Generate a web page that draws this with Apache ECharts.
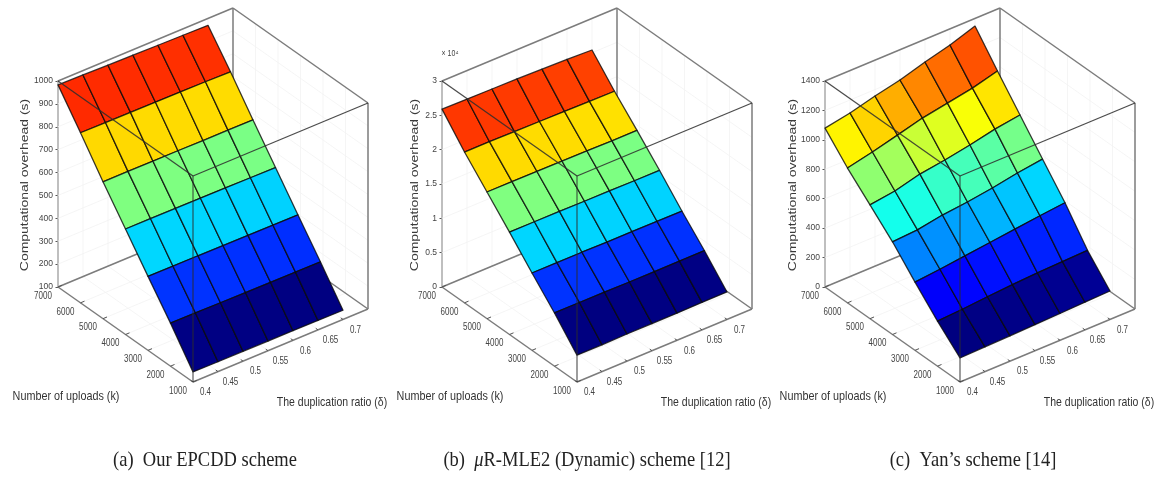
<!DOCTYPE html>
<html><head><meta charset="utf-8">
<style>html,body{margin:0;padding:0;background:#fff}#c{width:1163px;height:477px;filter:blur(0.7px)}</style>
<script src="https://cdn.jsdelivr.net/npm/echarts@6/dist/echarts.min.js"></script>
</head><body><div id="c"></div>
<script>
// ---------- data ----------
var uploads = [7000, 6000, 5000, 4000, 3000, 2000, 1000];
var ratios = [0.4, 0.45, 0.5, 0.55, 0.6, 0.65, 0.7];
var ratioAxisEnd = 0.75;
var captionA = '(a)  Our EPCDD scheme';
var captionB = '(b)  {i|μ}R-MLE2 (Dynamic) scheme [12]';
var captionC = '(c)  Yan\u2019s scheme [14]';
var nameUploads = 'Number of uploads (k)';
var nameRatio = 'The duplication ratio (δ)';
var nameOverhead = 'Computational overhead (s)';
// each row: one upload count, across the duplication ratios
var epcdd = [
  [983, 981, 978, 976, 974, 972, 970],
  [843, 842, 841, 840, 839, 838, 836],
  [698, 698, 697, 697, 696, 696, 695],
  [561, 561, 560, 559, 558, 557, 556],
  [423, 422, 422, 421, 420, 419, 418],
  [288, 287, 286, 285, 284, 283, 282],
  [144, 143, 143, 142, 142, 141, 140]
];
var mle2 = [
  [25900, 25850, 25800, 25750, 25650, 25550, 25400],
  [21960, 21950, 21900, 21850, 21800, 21750, 21700],
  [18450, 18430, 18400, 18400, 18350, 18300, 18300],
  [14900, 14900, 14900, 14850, 14850, 14800, 14800],
  [11260, 11250, 11250, 11200, 11200, 11200, 11150],
  [7750, 7750, 7750, 7700, 7700, 7700, 7700],
  [3900, 3900, 3950, 3950, 3950, 4000, 4000]
];
var yan = [
  [1080, 1112, 1156, 1194, 1246, 1290, 1348],
  [916, 954, 998, 1043, 1074, 1105, 1150],
  [773, 797, 841, 866, 897, 934, 959],
  [630, 640, 670, 688, 712, 743, 767],
  [464, 480, 500, 520, 540, 560, 578],
  [306, 316, 330, 342, 350, 356, 362],
  [163, 168, 172, 177, 182, 188, 193]
];
// ---------- panels ----------
var panels = [
  {rows: epcdd, left: 58,  zMin: 100, zMax: 1000,  zStep: 100,  fmt: function (v) { return String(v); }, nameX: 24.5, caption: captionA, capX: 205},
  {rows: mle2,  left: 442, zMin: 0,   zMax: 30000, zStep: 5000, fmt: function (v) { return String(v / 10000); }, nameX: 415, caption: captionB, capX: 587},
  {rows: yan,   left: 825, zMin: 0,   zMax: 1400,  zStep: 200,  fmt: function (v) { return String(v); }, nameX: 792.5, caption: captionC, capX: 973}
];
var W = 310, ZTOP = 81, ZH = 206, KX = 135, KY = 95, DX = 175, DY = 73;
function project(p, k, d, z) {
  var kt = (uploads[0] - k) / (uploads[0] - uploads[6]);
  var dt = (d - ratios[0]) / (ratioAxisEnd - ratios[0]);
  return [(kt * KX + dt * DX) / W, z + (-kt * KY + dt * DY) / ZH * (p.zMax - p.zMin)];
}
function jet(v) {
  function c(a) { return Math.round(255 * Math.max(0, Math.min(1, a))); }
  return 'rgb(' + c(Math.min(4 * v - 1.5, -4 * v + 4.5)) + ',' + c(Math.min(4 * v - 0.5, -4 * v + 3.5)) + ',' + c(Math.min(4 * v + 0.5, -4 * v + 2.5)) + ')';
}
function line(pa, pb, color, width) {
  return {type: 'line', shape: {x1: pa[0], y1: pa[1], x2: pb[0], y2: pb[1]}, style: {stroke: color, lineWidth: width, fill: null}};
}
function zTicks(p) { var a = []; for (var z = p.zMin; z <= p.zMax + 1e-6; z += p.zStep) a.push(z); return a; }

function behindItem(p) {
  return function (params, api) {
    function P(k, d, z) { return api.coord(project(p, k, d, z)); }
    var kA = uploads[0], kB = uploads[6], d0 = ratios[0], dE = ratioAxisEnd, g = [], GC = '#f2f2f2', BC = '#7c7c7c';
    zTicks(p).forEach(function (z) {
      g.push(line(P(kA, d0, z), P(kA, dE, z), GC, 0.8));
      g.push(line(P(kA, dE, z), P(kB, dE, z), GC, 0.8));
    });
    ratios.forEach(function (d) {
      g.push(line(P(kA, d, p.zMin), P(kA, d, p.zMax), GC, 0.8));
      g.push(line(P(kA, d, p.zMin), P(kB, d, p.zMin), GC, 0.8));
    });
    uploads.forEach(function (k) {
      g.push(line(P(k, dE, p.zMin), P(k, dE, p.zMax), GC, 0.8));
      g.push(line(P(k, d0, p.zMin), P(k, dE, p.zMin), GC, 0.8));
    });
    // box edges behind the surface
    g.push(line(P(kA, d0, p.zMin), P(kA, dE, p.zMin), BC, 1.5));
    g.push(line(P(kA, dE, p.zMin), P(kB, dE, p.zMin), BC, 1.5));
    g.push(line(P(kA, dE, p.zMin), P(kA, dE, p.zMax), BC, 1.5));
    g.push(line(P(kA, d0, p.zMax), P(kA, dE, p.zMax), BC, 1.5));
    g.push(line(P(kA, dE, p.zMax), P(kB, dE, p.zMax), BC, 1.5));
    g.push(line(P(kB, dE, p.zMin), P(kB, dE, p.zMax), BC, 1.5));
    g.push(line(P(kA, d0, p.zMin), P(kB, d0, p.zMin), BC, 1.5));
    g.push(line(P(kB, d0, p.zMin), P(kB, dE, p.zMin), BC, 1.5));
    // ticks and labels on the floor edges
    uploads.forEach(function (k) {
      var a = P(k, d0, p.zMin);
      g.push(line(a, P(k, d0 + 0.008, p.zMin), '#555', 1));
      g.push({type: 'text', x: a[0] - 15, y: a[1] + 9, scaleY: 1.25, style: {text: String(k), font: '8px "Liberation Sans"', fill: '#444', align: 'center', verticalAlign: 'middle'}});
    });
    ratios.forEach(function (d) {
      var a = P(kB, d, p.zMin);
      g.push(line(a, P(kB + 100, d, p.zMin), '#555', 1));
      g.push({type: 'text', x: a[0] + 12.5, y: a[1] + 10.5, scaleY: 1.25, style: {text: String(d), font: '8px "Liberation Sans"', fill: '#444', align: 'center', verticalAlign: 'middle'}});
    });
    return {type: 'group', children: g};
  };
}
function surfaceItem(p) {
  var all = [].concat.apply([], p.rows), lo = Math.min.apply(null, all), hi = Math.max.apply(null, all);
  return function (params, api) {
    var r = api.value(0), c = api.value(1);
    var pts = [[r, c], [r, c + 1], [r + 1, c + 1], [r + 1, c]].map(function (q) {
      return api.coord(project(p, uploads[q[0]], ratios[q[1]], p.rows[q[0]][q[1]]));
    });
    return {type: 'polygon', shape: {points: pts},
      style: {fill: jet((p.rows[r + 1][c] - lo) / (hi - lo)), stroke: 'rgba(10,10,10,0.8)', lineWidth: 1.3, lineJoin: 'round'}};
  };
}
function overlayItem(p) {
  return function (params, api) {
    function P(k, d, z) { return api.coord(project(p, k, d, z)); }
    var kA = uploads[0], kB = uploads[6], d0 = ratios[0], dE = ratioAxisEnd, C = 'rgba(45,45,45,0.85)';
    var top = P(kB, d0, p.zMax);
    return {type: 'group', children: [
      line(P(kA, d0, p.zMax), top, C, 1.3),
      line(top, P(kB, dE, p.zMax), C, 1.3),
      line(top, P(kB, d0, p.zMin), C, 1.1)
    ]};
  };
}
function label(text, x, y, font, color, scaleY, rich) {
  var style = {text: text, font: font, fill: color, align: 'center', verticalAlign: 'middle'};
  if (rich) style.rich = rich;
  return {type: 'text', x: x, y: y, scaleY: scaleY, silent: true, style: style};
}
var grids = [], xAxes = [], yAxes = [], series = [], texts = [];
panels.forEach(function (p, i) {
  grids.push({left: p.left, top: ZTOP, width: W, height: ZH});
  xAxes.push({gridIndex: i, type: 'value', min: 0, max: 1, show: false});
  yAxes.push({gridIndex: i, type: 'value', min: p.zMin, max: p.zMax, interval: p.zStep, position: 'left',
    axisLine: {show: true, onZero: false, lineStyle: {color: '#7c7c7c', width: 1.5}},
    axisTick: {show: true, length: 2.5, lineStyle: {color: '#555'}},
    axisLabel: {fontFamily: 'Liberation Sans', fontSize: 8.5, color: '#444', margin: 5, formatter: p.fmt},
    splitLine: {show: false}});
  var cells = [];
  for (var r = 0; r < uploads.length - 1; r++) for (var c = 0; c < ratios.length - 1; c++) cells.push([r, c]);
  series.push({type: 'custom', xAxisIndex: i, yAxisIndex: i, z: 1, silent: true, renderItem: behindItem(p), data: [[0, 0]]});
  series.push({type: 'custom', xAxisIndex: i, yAxisIndex: i, z: 2, silent: true, renderItem: surfaceItem(p), data: cells});
  series.push({type: 'custom', xAxisIndex: i, yAxisIndex: i, z: 3, silent: true, renderItem: overlayItem(p), data: [[0, 0]]});
  texts.push({type: 'text', x: p.nameX, y: 185, rotation: Math.PI / 2, scaleX: 1.27, silent: true,
    style: {text: nameOverhead, font: '11px "Liberation Sans"', fill: '#3a3a3a', align: 'center', verticalAlign: 'middle'}});
  texts.push(label(nameUploads, p.left + 8, 396, '10.8px "Liberation Sans"', '#333', 1.2));
  texts.push(label(nameRatio, p.left + 274, 403, '10.5px "Liberation Sans"', '#333', 1.2));
  texts.push(label(p.caption, p.capX, 460, '18.5px "Liberation Serif"', '#222', 1.15,
    {i: {font: 'italic 18.5px "Liberation Serif"', fill: '#222'}}));
});
texts.push(label('× 10⁴', 450, 54, '7px "Liberation Sans"', '#444', 1.2));
var chart = echarts.init(document.getElementById('c'), null, {width: 1163, height: 477});
chart.setOption({animation: false, backgroundColor: '#fff', graphic: {elements: texts}, grid: grids, xAxis: xAxes, yAxis: yAxes, series: series});
</script></body></html>
